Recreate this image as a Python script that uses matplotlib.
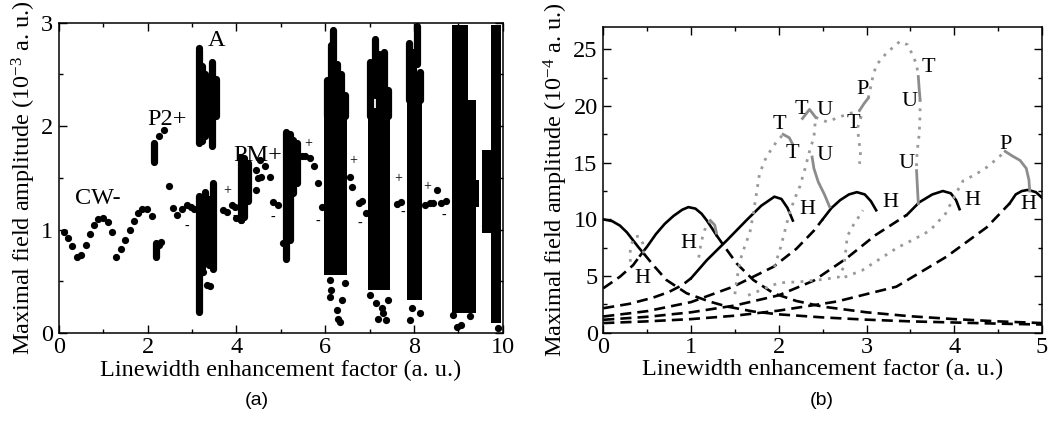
import numpy as np
import matplotlib.pyplot as plt
from matplotlib.ticker import MultipleLocator

plt.rcParams['font.family'] = ['Liberation Serif', 'DejaVu Serif']
plt.rcParams['mathtext.fontset'] = 'custom'
plt.rcParams['mathtext.rm'] = 'Liberation Serif'
plt.rcParams['mathtext.default'] = 'regular'

# ---------------- panel (a): bifurcation diagram ----------------
# isolated orbit points
dot_x = [0.11, 0.21, 0.30, 0.41, 0.50, 0.60, 0.70, 0.80, 0.89, 1.00, 1.10, 1.20,
         1.29, 1.40, 1.49, 1.59, 1.69, 1.79, 1.88, 1.98, 2.09,
         2.25, 2.30, 2.26, 2.37, 2.48,
         2.57, 2.67, 2.78, 2.88, 2.97, 3.04,
         3.25, 3.33, 3.40, 3.16,
         3.70, 3.78, 3.89, 3.96, 4.00, 4.11,
         4.45, 4.49, 4.45, 4.53, 4.56, 4.64, 4.75, 4.83, 4.94, 5.04,
         5.47, 5.54, 5.65, 5.74, 5.84, 5.93,
         6.10, 6.14, 6.10, 6.44, 6.37, 6.29, 6.33, 6.27,
         6.55, 6.61, 6.76, 6.84, 6.93,
         7.00, 7.15, 7.27, 7.30, 7.19, 7.38, 7.42,
         7.61, 7.70,
         7.90, 8.13, 7.95,
         8.24, 8.36, 8.43, 8.51, 8.62, 8.73,
         8.96, 9.07, 8.88, 9.26, 9.59, 9.90]
dot_y = [0.98, 0.92, 0.84, 0.73, 0.75, 0.85, 0.96, 1.04, 1.10, 1.11, 1.07, 0.98,
         0.73, 0.81, 0.90, 1.00, 1.08, 1.16, 1.20, 1.20, 1.13,
         0.85, 0.88, 1.90, 1.96, 1.42,
         1.21, 1.14, 1.20, 1.24, 1.22, 1.20,
         0.59, 0.46, 0.45, 2.76,
         1.19, 1.17, 1.24, 1.22, 1.11, 1.09,
         1.38, 1.50, 1.58, 1.67, 1.51, 1.61, 1.51, 1.27, 1.24, 0.87,
         1.71, 1.71, 1.69, 1.61, 1.45, 1.22,
         0.51, 0.42, 0.35, 0.48, 0.32, 0.14, 0.11, 0.22,
         1.51, 1.41, 1.26, 1.28, 1.16,
         0.37, 0.29, 0.24, 0.19, 0.14, 0.13, 0.32,
         1.25, 1.27,
         0.13, 0.19, 0.24,
         1.24, 1.26, 1.26, 1.38, 1.26, 1.28,
         0.06, 0.08, 0.17, 0.16, 1.03, 0.05]

# vertical stacks of overlapping points
col_x = [2.15, 2.18,
         3.16, 3.22, 3.30, 3.38, 3.45, 3.53,
         3.15, 3.22, 3.30, 3.38, 3.46,
         4.10, 4.18, 4.26,
         5.12, 5.20, 5.28, 5.36,
         6.03, 6.12, 6.18, 6.27, 6.36, 6.44,
         7.02, 7.12, 7.22, 7.32, 7.42,
         7.88, 7.97, 8.06, 8.13]
col_lo = [1.65, 0.73,
          1.84, 1.86, 1.90, 2.00, 1.81, 2.10,
          0.20, 0.63, 0.68, 0.66, 0.62,
          1.09, 1.12, 1.28,
          0.72, 0.90, 1.35, 1.45,
          2.10, 2.10, 2.50, 2.10, 2.10, 2.10,
          2.10, 2.30, 2.10, 2.10, 2.10,
          2.25, 2.25, 2.60, 2.25]
col_hi = [1.84, 0.87,
          2.74, 2.58, 2.50, 2.45, 2.62, 2.46,
          1.32, 1.30, 1.36, 1.30, 1.45,
          1.70, 1.69, 1.64,
          1.94, 1.92, 1.87, 1.84,
          2.45, 2.78, 2.93, 2.60, 2.50, 2.30,
          2.62, 2.84, 2.70, 2.72, 2.35,
          2.80, 2.72, 2.97, 2.52]

# dense chaotic windows
band_x0 = [5.98, 6.97, 7.84, 8.85, 8.85, 9.40, 9.53, 9.73]
band_x1 = [6.50, 7.47, 8.18, 9.40, 9.22, 9.47, 9.73, 9.96]
band_lo = [0.56, 0.42, 0.32, 0.19, 2.25, 1.22, 0.97, 0.10]
band_hi = [2.18, 2.18, 2.35, 2.25, 2.98, 1.48, 1.77, 2.98]

plus_x = [3.79, 5.61, 6.63, 7.64, 8.30]
plus_y = [1.38, 1.83, 1.67, 1.49, 1.42]
minus_x = [2.88, 3.96, 4.83, 5.84, 6.78, 7.74, 8.68]
minus_y = [1.03, 1.13, 1.12, 1.08, 1.06, 1.17, 1.14]

lab_a = ['CW-', 'P2+', 'A', 'PM+']
lab_a_x = [0.36, 1.98, 3.36, 3.93]
lab_a_y = [1.25, 2.01, 2.77, 1.66]

# ---------------- panel (b): continuation diagram ----------------
m0_sol_x = [0.0, 0.10, 0.19, 0.27, 0.34, 0.40, 0.46]
m0_sol_y = [10.0, 9.85, 9.45, 8.85, 8.15, 7.55, 7.0]
m0_dsh_x = [0.46, 0.57, 0.72, 0.95, 1.21, 1.41, 1.71, 2.0, 2.5, 3.0, 3.5, 4.0, 4.5, 5.0]
m0_dsh_y = [7.0, 5.96, 4.65, 3.48, 2.75, 2.31, 1.87, 1.62, 1.35, 1.15, 1.0, 0.9, 0.8, 0.72]

m1_up_x = [0.0, 0.19, 0.34, 0.42]
m1_up_y = [3.92, 4.94, 5.96, 6.8]
m1_sol_x = [0.42, 0.50, 0.60, 0.70, 0.80, 0.90, 0.97, 1.05, 1.12, 1.18, 1.24, 1.29]
m1_sol_y = [6.8, 7.6, 8.7, 9.6, 10.3, 10.85, 11.08, 10.95, 10.5, 9.9, 9.2, 8.6]
m1_dn_x = [1.29, 1.37, 1.52, 1.71, 1.94, 2.2, 2.5, 3.0, 3.5, 4.0, 4.5, 5.0]
m1_dn_y = [8.6, 7.72, 6.11, 4.65, 3.48, 2.8, 2.3, 1.8, 1.45, 1.2, 1.0, 0.85]

m2_up_x = [0.0, 0.30, 0.57, 0.75, 0.90, 1.0]
m2_up_y = [2.16, 2.55, 3.1, 3.6, 4.2, 4.8]
m2_sol_x = [1.0, 1.18, 1.41, 1.63, 1.80, 1.95, 2.03, 2.10, 2.16]
m2_sol_y = [4.8, 6.4, 8.16, 9.91, 11.2, 12.0, 11.8, 11.0, 9.9]

m3_up_x = [0.0, 0.5, 1.0, 1.48, 1.94, 2.2, 2.4, 2.5]
m3_up_y = [1.43, 1.9, 2.7, 4.06, 5.82, 7.4, 9.0, 10.0]
m3_sol_x = [2.5, 2.6, 2.7, 2.8, 2.89, 2.98, 3.05, 3.11]
m3_sol_y = [10.0, 11.0, 11.7, 12.2, 12.4, 12.2, 11.6, 10.8]

m4_up_x = [0.0, 0.5, 1.0, 1.5, 2.0, 2.4, 2.77, 3.1, 3.46]
m4_up_y = [1.14, 1.4, 1.8, 2.4, 3.3, 4.6, 6.55, 8.6, 10.4]
m4_sol_x = [3.46, 3.6, 3.75, 3.87, 3.96, 4.02, 4.06]
m4_sol_y = [10.4, 11.5, 12.2, 12.5, 12.3, 11.7, 10.9]

m5_up_x = [0.0, 0.5, 1.0, 1.5, 2.0, 2.66, 3.34, 3.91, 4.37, 4.63]
m5_up_y = [0.85, 1.0, 1.2, 1.5, 1.95, 2.75, 4.06, 6.7, 9.3, 11.4]
m5_sol_x = [4.63, 4.70, 4.77, 4.84, 4.93, 5.0]
m5_sol_y = [11.4, 12.2, 12.5, 12.6, 12.4, 11.9]

# periodic orbit branches: unstable (dotted) and stable (solid grey)
po_dot = [
    ([0.46, 0.45, 0.41, 0.36, 0.32, 0.30, 0.32], [7.0, 7.9, 8.5, 8.5, 7.8, 6.8, 5.8]),
    ([1.22, 1.17, 1.13, 1.10, 1.08], [9.9, 9.4, 8.4, 7.3, 6.1]),
    ([1.50, 1.52, 1.56, 1.62, 1.67, 1.71, 1.75, 1.78, 1.84, 1.90, 1.97, 2.05],
     [3.4, 4.6, 6.4, 7.8, 8.8, 10.5, 12.5, 14.0, 15.2, 16.0, 16.8, 17.5]),
    ([1.95, 2.02, 2.07, 2.12, 2.18, 2.24, 2.30, 2.36, 2.40, 2.41, 2.42],
     [5.8, 7.5, 9.0, 10.5, 11.8, 12.9, 14.5, 16.3, 17.2, 18.1, 19.0]),
    ([2.42, 2.55, 2.68, 2.79, 2.92], [19.0, 18.6, 19.0, 19.3, 19.6]),
    ([3.02, 3.07, 3.11, 3.23, 3.38, 3.47, 3.53, 3.57, 3.59],
     [20.7, 22.5, 23.6, 24.7, 25.7, 25.4, 24.4, 23.7, 22.6]),
    ([3.61, 3.61, 3.60, 3.58, 3.57, 3.57], [20.6, 19.3, 17.5, 16.2, 15.2, 14.3]),
    ([2.94, 2.90, 2.91, 2.93, 2.93, 2.92], [19.1, 18.1, 17.0, 16.1, 15.6, 14.9]),
    ([1.65, 2.0, 2.25, 2.5, 2.68, 2.74, 2.76, 2.78, 2.85, 2.96],
     [3.3, 4.4, 4.5, 4.7, 4.9, 5.8, 7.0, 8.5, 9.5, 10.8]),
    ([2.75, 2.95, 3.15, 3.35, 3.53, 3.72, 3.9, 4.02, 4.1, 4.25, 4.37, 4.48, 4.58],
     [4.9, 5.5, 6.5, 7.5, 8.2, 9.0, 10.5, 12.3, 13.4, 14.0, 14.6, 15.3, 16.0]),
]
po_sol = [
    ([1.29, 1.27, 1.22], [8.8, 9.5, 9.9]),
    ([2.05, 2.12, 2.16], [17.5, 17.2, 16.6]),
    ([2.27, 2.35, 2.42], [18.9, 19.7, 19.0]),
    ([2.38, 2.40, 2.45, 2.52, 2.58], [15.5, 14.5, 13.3, 12.2, 11.1]),
    ([2.92, 2.97, 3.02], [19.6, 20.2, 20.7]),
    ([3.59, 3.60, 3.61], [22.6, 21.5, 20.6]),
    ([3.57, 3.58, 3.59], [14.3, 12.8, 11.4]),
    ([4.58, 4.66, 4.75, 4.82, 4.85, 4.86], [16.0, 15.6, 15.2, 14.5, 13.5, 12.5]),
]

lab_b = ['H', 'H', 'H', 'H', 'H', 'H', 'T', 'T', 'T', 'T', 'T', 'U', 'U', 'U', 'U', 'P', 'P']
lab_b_x = [0.44, 0.97, 2.33, 3.27, 4.21, 4.84, 2.01, 2.15, 2.26, 2.85, 3.70,
           2.52, 2.52, 3.49, 3.46, 2.96, 4.58]
lab_b_y = [4.8, 7.9, 10.85, 11.5, 11.67, 11.3, 18.4, 15.8, 19.7, 18.5, 23.4,
           19.6, 15.6, 20.4, 14.9, 21.5, 16.6]

FS = 17.5
fig = plt.figure(figsize=(10.53, 4.34), dpi=100)
ax1 = fig.add_axes([0.056, 0.2327, 0.4214, 0.715])
ax2 = fig.add_axes([0.5729, 0.2334, 0.4167, 0.7051])

# panel (a)
for x0, x1, lo, hi in zip(band_x0, band_x1, band_lo, band_hi):
    ax1.bar((x0 + x1) / 2, hi - lo, width=x1 - x0, bottom=lo, color='k', linewidth=0)
ax1.vlines(col_x, col_lo, col_hi, colors='k', linewidth=5.2, capstyle='round')
ax1.plot(dot_x, dot_y, 'o', color='k', ms=5.2, mew=0)
for x, y in zip(plus_x, plus_y):
    ax1.text(x, y, '+', ha='center', va='center', fontsize=10)
for x, y in zip(minus_x, minus_y):
    ax1.text(x, y, '-', ha='center', va='center', fontsize=10)
for t, x, y in zip(lab_a, lab_a_x, lab_a_y):
    ax1.text(x, y, t, ha='left', va='baseline', fontsize=FS)
ax1.set_xlim(0, 10)
ax1.set_ylim(0, 3)
ax1.xaxis.set_major_locator(MultipleLocator(2))
ax1.xaxis.set_minor_locator(MultipleLocator(1))
ax1.yaxis.set_major_locator(MultipleLocator(1))
ax1.yaxis.set_minor_locator(MultipleLocator(0.5))
ax1.set_xlabel('Linewidth enhancement factor (a. u.)', fontsize=FS, labelpad=1)
ax1.set_ylabel('Maximal field amplitude (10$^{-3}$ a. u.)', fontsize=FS, labelpad=2)

# panel (b)
blk = dict(color='k', lw=1.9)
dash = (0, (4.2, 2.3))
ax2.plot(m0_sol_x, m0_sol_y, **blk)
ax2.plot(m0_dsh_x, m0_dsh_y, ls=dash, **blk)
ax2.plot(m1_up_x, m1_up_y, ls=dash, **blk)
ax2.plot(m1_sol_x, m1_sol_y, **blk)
ax2.plot(m1_dn_x, m1_dn_y, ls=dash, **blk)
ax2.plot(m2_up_x, m2_up_y, ls=dash, **blk)
ax2.plot(m2_sol_x, m2_sol_y, **blk)
ax2.plot(m3_up_x, m3_up_y, ls=dash, **blk)
ax2.plot(m3_sol_x, m3_sol_y, **blk)
ax2.plot(m4_up_x, m4_up_y, ls=dash, **blk)
ax2.plot(m4_sol_x, m4_sol_y, **blk)
ax2.plot(m5_up_x, m5_up_y, ls=dash, **blk)
ax2.plot(m5_sol_x, m5_sol_y, **blk)
for xs, ys in po_dot:
    ax2.plot(xs, ys, color='#999999', lw=2.0, ls=(0, (1, 2.3)))
for xs, ys in po_sol:
    ax2.plot(xs, ys, color='#8c8c8c', lw=2.0)
for t, x, y in zip(lab_b, lab_b_x, lab_b_y):
    ax2.text(x, y, t, ha='center', va='center', fontsize=16)
ax2.set_xlim(0, 5)
ax2.set_ylim(0, 27)
ax2.xaxis.set_major_locator(MultipleLocator(1))
ax2.xaxis.set_minor_locator(MultipleLocator(0.5))
ax2.yaxis.set_major_locator(MultipleLocator(5))
ax2.yaxis.set_minor_locator(MultipleLocator(2.5))
ax2.set_xlabel('Linewidth enhancement factor (a. u.)', fontsize=FS, labelpad=1)
ax2.set_ylabel('Maximal field amplitude (10$^{-4}$ a. u.)', fontsize=FS, labelpad=2)

for ax in (ax1, ax2):
    ax.tick_params(which='both', direction='in', top=True, right=True,
                   labelsize=FS, width=1.0)
    ax.tick_params(axis='x', which='both', pad=3)
    ax.tick_params(axis='y', which='both', pad=4)
    ax.tick_params(which='major', length=6)
    ax.tick_params(which='minor', length=3)
    for s in ax.spines.values():
        s.set_linewidth(1.1)

fig.text(0.244, 0.078, '(a)', ha='center', va='center', fontsize=14,
         family='Liberation Sans')
fig.text(0.780, 0.078, '(b)', ha='center', va='center', fontsize=14,
         family='Liberation Sans')

fig.savefig('out.png', dpi=100)
